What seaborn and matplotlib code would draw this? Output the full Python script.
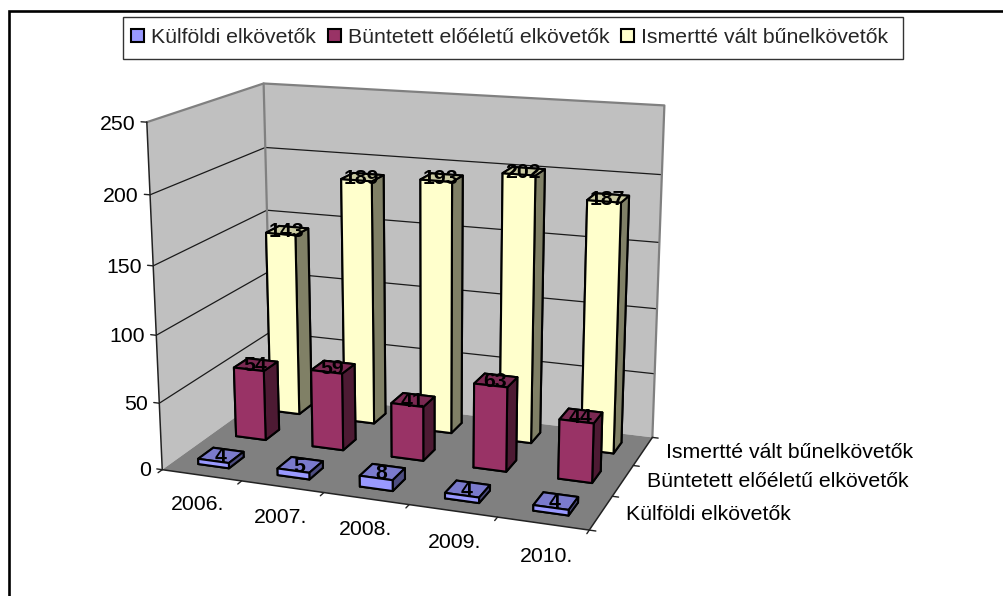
import numpy as np
import matplotlib
matplotlib.use('Agg')
import matplotlib.pyplot as plt
import seaborn as sns
from matplotlib.lines import Line2D
from matplotlib.patches import Patch, Rectangle
from mpl_toolkits.mplot3d import proj3d
from mpl_toolkits.mplot3d.art3d import Poly3DCollection

years = ['2006.', '2007.', '2008.', '2009.', '2010.']
series_names = ['Külföldi elkövetők', 'Büntetett előéletű elkövetők', 'Ismertté vált bűnelkövetők']
kulfoldi = [4, 5, 8, 4, 4]
buntetett = [54, 59, 41, 63, 44]
ismertte = [143, 189, 193, 202, 187]
z_ticks = [0, 50, 100, 150, 200, 250]

sns.set_theme(style='white')
plt.rcParams['font.family'] = ['Liberation Sans', 'DejaVu Sans']
FONT = 15.3
palette = sns.color_palette(['#9999FF', '#993366', '#FFFFCC'])

W, H = 1004, 596
S = 700
fig = plt.figure(figsize=(W / 100, H / 100), dpi=100, facecolor='white')
# camera and axes place fitted to the frame of the original chart
ax = fig.add_axes([0.5 - S / 2 / W - 98.73 / W, 0.5 - S / 2 / H + 0.57 / H, S / W, S / H], projection='3d')
ax.view_init(elev=15.3595, azim=-69.5149, roll=0.1743)
ax.set_proj_type('persp', focal_length=0.4538)
ax.set_box_aspect((1.2517, 0.7358, 1), zoom=0.8604)
ax.computed_zorder = False
ax.set_axis_off()
ax.patch.set_alpha(0)

nx, ny, zmax = len(years), len(series_names), z_ticks[-1]
ax.set_xlim(0, nx, view_margin=0)
ax.set_ylim(0, ny, view_margin=0)
ax.set_zlim(0, zmax, view_margin=0)


def label(x, y, z, text, **kw):
    # place a flat text at a spot of the 3d axes
    px, py, _ = proj3d.proj_transform(x, y, z, ax.get_proj())
    ax.text2D(px, py, text, transform=ax.transData, color='black', **kw)


# walls and floor
left_wall = [(0, 0, 0), (0, ny, 0), (0, ny, zmax), (0, 0, zmax)]
back_wall = [(0, ny, 0), (nx, ny, 0), (nx, ny, zmax), (0, ny, zmax)]
floor = [(0, 0, 0), (nx, 0, 0), (nx, ny, 0), (0, ny, 0)]
ax.add_collection3d(Poly3DCollection([left_wall, back_wall], facecolor='#C0C0C0', edgecolor='none', zorder=1))
ax.add_collection3d(Poly3DCollection([floor], facecolor='#808080', edgecolor='none', zorder=1))

# gridlines
for z in z_ticks[1:-1]:
    ax.plot([0, 0, nx], [0, ny, ny], [z, z, z], color='#1a1a1a', lw=0.9, zorder=2)

# wall edges
edge = dict(color='#808080', lw=1.6, zorder=2)
ax.plot([0, 0, nx, nx], [0, ny, ny, ny], [zmax, zmax, zmax, 0], **edge)
ax.plot([0, 0], [ny, ny], [0, zmax], **edge)
ax.plot([nx, 0, 0], [0, 0, 0], [0, 0, zmax], color='#222222', lw=1.1, zorder=2)
ax.plot([nx, nx], [0, ny], [0, 0], color='#222222', lw=1.1, zorder=2)

# ticks
tick = dict(color='#222222', lw=1.0, zorder=2)
for z in z_ticks:
    ax.plot([-0.07, 0], [0, 0], [z, z], **tick)
for i in range(nx + 1):
    ax.plot([i, i], [-0.1, 0], [0, 0], **tick)
for j in range(ny + 1):
    ax.plot([nx, nx + 0.07], [j, j], [0, 0], **tick)

# bars, back row first
values = [kulfoldi, buntetett, ismertte]
bar_w, bar_d = 0.39, 0.39
for j in reversed(range(ny)):
    base = np.array(palette[j])
    top, side = base * 0.8, base * 0.5
    faces = [top, top, base, base, side, side]
    for i, v in enumerate(values[j]):
        ax.bar3d(i + 0.5 - bar_w / 2, j + 0.5 - bar_d / 2, 0, bar_w, bar_d, v, color=faces,
                 shade=False, edgecolor='black', linewidth=1.5, zorder=10 + (ny - j) * 10 + i)
        label(i + 0.49, j + 0.5, v - 1, str(v), ha='center', va='center', fontsize=FONT, fontweight='bold',
              zorder=60 + (ny - j) * 10)

# tick labels
for z in z_ticks:
    label(-0.14, 0, z - 2, str(z), ha='right', va='center', fontsize=FONT, zorder=70)
for i, name in enumerate(years):
    label(i + 0.66, -0.42, -11, name, ha='center', va='center', fontsize=FONT, zorder=70)
for j, name in enumerate(series_names):
    label(nx + 0.28, j + 0.45, 2.5, name, ha='left', va='center', fontsize=FONT, zorder=70)

ax.set_xlim(0, nx, view_margin=0)
ax.set_ylim(0, ny, view_margin=0)
ax.set_zlim(0, zmax, view_margin=0)

# legend on top, its box is a little off centre from the entries
fig.add_artist(Rectangle((123 / W, 1 - 58.5 / H), 780 / W, 42 / H, transform=fig.transFigure,
                         facecolor='white', edgecolor='#333333', lw=1.0))
handles = [Patch(facecolor=c, edgecolor='black', linewidth=1.5) for c in palette]
leg = fig.legend(handles, series_names, ncol=3, loc='center', bbox_to_anchor=(509.5 / W, 1 - 37.5 / H),
                 fontsize=FONT, frameon=False, handlelength=0.62, handleheight=0.62,
                 handletextpad=0.32, columnspacing=0.56, borderpad=0, borderaxespad=0)
leg.set_zorder(5)

# chart border, cut off on the right and bottom in the original
fig.add_artist(Line2D([9 / W, 9 / W, 1], [0, 1 - 11 / H, 1 - 11 / H], color='black', lw=1.9, solid_joinstyle='miter'))

fig.savefig('out.png', dpi=100)
